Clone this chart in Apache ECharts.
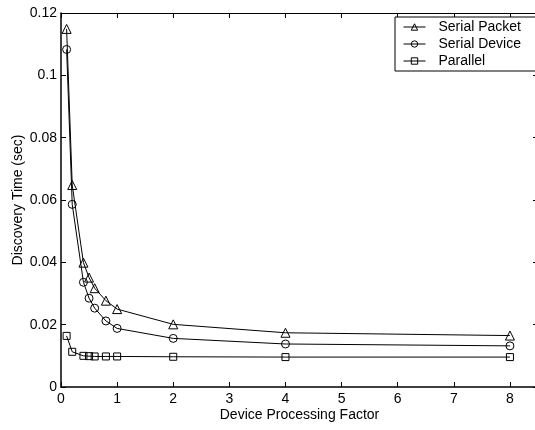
<!DOCTYPE html>
<html>
<head>
<meta charset="utf-8">
<script src="https://cdn.jsdelivr.net/npm/echarts@6/dist/echarts.min.js"></script>
<style>
html,body{margin:0;padding:0;background:#fff;}
#chart{width:535px;height:430px;}
</style>
</head>
<body>
<div id="chart"></div>
<script>
const xValues = [0.1, 0.2, 0.4, 0.5, 0.6, 0.8, 1, 2, 4, 8];
const serialPacket = [0.1149, 0.0648, 0.0399, 0.0351, 0.0317, 0.0277, 0.0250, 0.0201, 0.0174, 0.0165];
const serialDevice = [0.1083, 0.0586, 0.0336, 0.0285, 0.0253, 0.0212, 0.0188, 0.0156, 0.0138, 0.0132];
const parallel = [0.0164, 0.0113, 0.0100, 0.0099, 0.0098, 0.0098, 0.0098, 0.0097, 0.0096, 0.0096];
const seriesNames = ['Serial Packet', 'Serial Device', 'Parallel'];

const font = 'Liberation Sans, Arial, Helvetica, sans-serif';
const chart = echarts.init(document.getElementById('chart'), null, {renderer: 'canvas'});

function pairs(ys) { return xValues.map((x, i) => [x, ys[i]]); }

const hollow = {color: 'rgba(255,255,255,0)', borderColor: '#000', borderWidth: 1};

function mkSeries(name, ys, symbol, size) {
  return {
    name: name, type: 'line', data: pairs(ys), symbol: symbol, symbolSize: size,
    showAllSymbol: true, animation: false,
    lineStyle: {color: '#000', width: 1},
    itemStyle: hollow,
    emphasis: {disabled: true}
  };
}

const axisTextStyle = {color: '#000', fontSize: 14, fontFamily: font};

chart.setOption({
  backgroundColor: '#fff',
  animation: false,
  grid: {left: 61, top: 13, width: 477, height: 374, containLabel: false, outerBoundsMode: 'none'},
  legend: {
    data: seriesNames, orient: 'vertical', left: 395, top: 17,
    backgroundColor: '#fff', borderColor: '#000', borderWidth: 1,
    padding: [3, 20, 3, 8], itemWidth: 22, itemHeight: 8, itemGap: 3,
    itemStyle: hollow,
    lineStyle: {color: '#000', width: 1},
    textStyle: {color: '#000', fontSize: 14, fontFamily: font, lineHeight: 14, padding: [0, 0, 0, 8]}
  },
  xAxis: [{
    type: 'value', min: 0, max: 8.5, interval: 1, position: 'bottom',
    name: 'Device Processing Factor', nameLocation: 'middle', nameGap: 21, nameMoveOverlap: false,
    nameTextStyle: axisTextStyle,
    axisLine: {show: true, lineStyle: {color: '#000', width: 1.5}},
    axisTick: {show: true, inside: true, length: 5, lineStyle: {color: '#000'}},
    axisLabel: {color: '#000', fontSize: 14, fontFamily: font, margin: 5, showMaxLabel: false},
    splitLine: {show: false}
  }, {
    type: 'value', min: 0, max: 8.5, interval: 1, position: 'top',
    axisLine: {show: true, onZero: false, lineStyle: {color: '#000', width: 1}},
    axisTick: {show: true, inside: true, length: 5, lineStyle: {color: '#000'}},
    axisLabel: {show: false}, splitLine: {show: false}
  }],
  yAxis: [{
    type: 'value', min: 0, max: 0.12, interval: 0.02, position: 'left',
    name: 'Discovery Time (sec)', nameLocation: 'middle', nameGap: 36, nameMoveOverlap: false,
    nameTextStyle: axisTextStyle,
    axisLine: {show: true, lineStyle: {color: '#000', width: 1.5}},
    axisTick: {show: true, inside: true, length: 5, lineStyle: {color: '#000'}},
    axisLabel: {color: '#000', fontSize: 14, fontFamily: font, margin: 4},
    splitLine: {show: false}
  }, {
    type: 'value', min: 0, max: 0.12, interval: 0.02, position: 'right',
    axisLine: {show: true, onZero: false, lineStyle: {color: '#000', width: 1}},
    axisTick: {show: true, inside: true, length: 5, lineStyle: {color: '#000'}},
    axisLabel: {show: false}, splitLine: {show: false}
  }],
  series: [
    mkSeries(seriesNames[0], serialPacket, 'triangle', 9),
    mkSeries(seriesNames[1], serialDevice, 'circle', 8),
    mkSeries(seriesNames[2], parallel, 'rect', 7)
  ]
});
</script>
</body>
</html>
